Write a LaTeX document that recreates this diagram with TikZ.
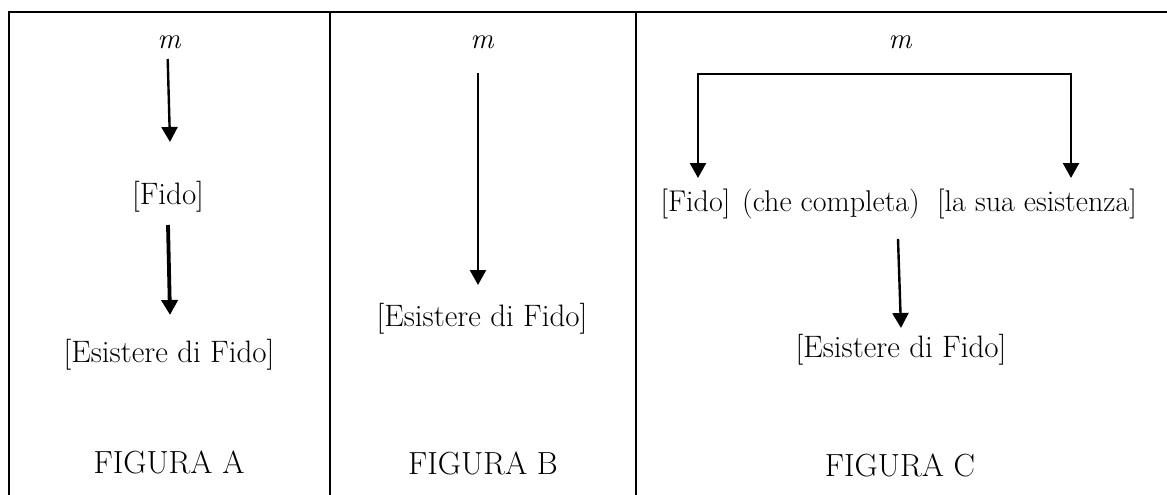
\documentclass[tikz,border=0pt]{standalone}
\usetikzlibrary{arrows.meta}
\tikzset{
  txt/.style={inner sep=0pt, font=\fontsize{31}{36}\selectfont},
  rowtxt/.style={inner sep=0pt, font=\fontsize{30}{35}\selectfont},
  lbl/.style={inner sep=0pt, font=\fontsize{32}{37}\selectfont},
  mtxt/.style={inner sep=0pt, font=\fontsize{29}{34}\selectfont\itshape},
  arr/.style={line width=2.4pt, -{Triangle[width=16pt,length=15pt]}},
  arrB/.style={line width=3.8pt, -{Triangle[width=16pt,length=15pt]}},
  frame/.style={line width=2.4pt}
}
\begin{document}
\begin{tikzpicture}[x=1pt,y=-1pt]
\useasboundingbox (0,0) rectangle (1167,495);
% frame
\draw[frame] (9,495) -- (9,12) -- (1167,12);
\draw[frame] (330,12) -- (330,495);
\draw[frame] (636,12) -- (636,495);
% panel A
\node[mtxt] (am) at (169,42) {m};
\node[txt] (afido) at (168,197) {[Fido]};
\node[txt] (aes) at (169,355) {[Esistere di Fido]};
\node[lbl] (alab) at (169,462) {FIGURA A};
\coordinate (a1s) at (167.7,59);
\coordinate (a1e) at (170,142);
\coordinate (a2s) at (168,225);
\coordinate (a2e) at (170,315);
\draw[arr] (a1s) -- (a1e);
\draw[arrB] (a2s) -- (a2e);
% panel B
\node[mtxt] (bm) at (482,42) {m};
\node[txt] (bes) at (482,319) {[Esistere di Fido]};
\node[lbl] (blab) at (483,463) {FIGURA B};
\coordinate (b1s) at (478,73);
\coordinate (b1e) at (478,285);
\draw[arr] (b1s) -- (b1e);
% panel C
\node[mtxt] (cm) at (900,42) {m};
\node[rowtxt] (cfido) at (695.5,204) {[Fido]};
\node[rowtxt] (cche) at (831,204) {(che completa)};
\node[rowtxt] (csua) at (1037,204) {[la sua esistenza]};
\node[txt] (ces) at (901,350) {[Esistere di Fido]};
\node[lbl] (clab) at (900,465) {FIGURA C};
\coordinate (cl) at (698,74);
\coordinate (cr) at (1071,74);
\coordinate (cle) at (698,178);
\coordinate (cre) at (1071,178);
\coordinate (c3s) at (898,239);
\coordinate (c3e) at (901,328);
\draw[frame, line cap=rect] (cl) -- (cr);
\draw[arr] (cl) -- (cle);
\draw[arr] (cr) -- (cre);
\draw[arr] (c3s) -- (c3e);
\end{tikzpicture}
\end{document}
